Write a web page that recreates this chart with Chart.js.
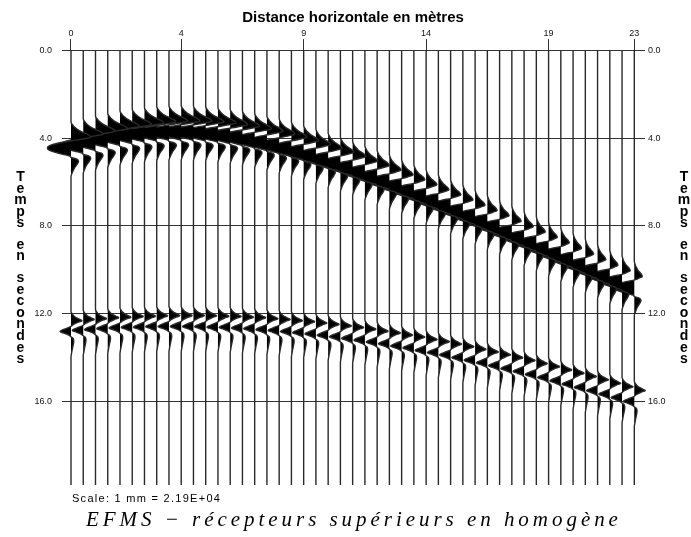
<!DOCTYPE html>
<html>
<head>
<meta charset="utf-8">
<script src="https://cdn.jsdelivr.net/npm/chart.js@4.4.1/dist/chart.umd.min.js"></script>
<style>
  html, body { margin: 0; padding: 0; background: #fff; }
  canvas { display: block; }
</style>
</head>
<body>
<canvas id="c" width="691" height="537"></canvas>
<script>
// Receiver offsets along the surface (m), one trace per receiver
const offsets = [0, 0.5, 1, 1.5, 2, 2.5, 3, 3.5, 4, 4.5, 5, 5.5, 6, 6.5, 7, 7.5, 8, 8.5, 9, 9.5,
  10, 10.5, 11, 11.5, 12, 12.5, 13, 13.5, 14, 14.5, 15, 15.5, 16, 16.5, 17, 17.5, 18, 18.5, 19, 19.5,
  20, 20.5, 21, 21.5, 22, 22.5, 23];

// Time of the main (negative) peak of the first arrival on each trace (s)
const firstArrival = [4.48, 4.34, 4.21, 4.09, 3.98, 3.90, 3.83, 3.78, 3.75, 3.74,
  3.75, 3.78, 3.83, 3.90, 3.98, 4.09, 4.21, 4.34, 4.48, 4.64,
  4.81, 4.99, 5.17, 5.36, 5.57, 5.77, 5.98, 6.20, 6.42, 6.65,
  6.88, 7.11, 7.34, 7.58, 7.82, 8.06, 8.31, 8.56, 8.80, 9.05,
  9.30, 9.55, 9.81, 10.06, 10.32, 10.57, 10.83];

// Trace deflection of the first arrival per unit amplitude (m)
const firstGain = [0.96, 0.96, 0.96, 0.96, 0.95, 0.95, 0.95, 0.95, 0.95, 0.95,
  0.95, 0.95, 0.94, 0.94, 0.94, 0.94, 0.93, 0.93, 0.93, 0.92,
  0.92, 0.91, 0.91, 0.90, 0.90, 0.89, 0.89, 0.89, 0.88, 0.88,
  0.88, 0.87, 0.87, 0.87, 0.87, 0.86, 0.86, 0.86, 0.86, 0.86,
  0.85, 0.85, 0.85, 0.85, 0.85, 0.85, 0.85];

// Relative size of the leading positive lobe of the first arrival
const firstLead = [1.00, 1.00, 1.00, 0.99, 0.99, 0.98, 0.98, 0.97, 0.96, 0.95,
  0.94, 0.93, 0.92, 0.90, 0.88, 0.86, 0.84, 0.82, 0.80, 0.78,
  0.76, 0.74, 0.72, 0.70, 0.68, 0.66, 0.64, 0.62, 0.60, 0.59,
  0.58, 0.57, 0.56, 0.55, 0.54, 0.53, 0.52, 0.51, 0.50, 0.49,
  0.48, 0.48, 0.47, 0.47, 0.46, 0.46, 0.45];

// Time of the main (negative) peak of the second arrival on each trace (s)
const secondArrival = [12.85, 12.80, 12.76, 12.72, 12.69, 12.66, 12.65, 12.63, 12.62, 12.62,
  12.62, 12.63, 12.65, 12.66, 12.69, 12.72, 12.76, 12.80, 12.85, 12.90,
  12.96, 13.02, 13.09, 13.16, 13.24, 13.33, 13.41, 13.51, 13.60, 13.71,
  13.81, 13.92, 14.04, 14.16, 14.28, 14.41, 14.54, 14.67, 14.81, 14.95,
  15.10, 15.25, 15.40, 15.55, 15.71, 15.87, 16.04];

// Trace deflection of the second arrival per unit amplitude (m)
const secondGain = 0.45;

// Pulse of the first arrival: lag from its main peak (s), leading lobe and main part
const firstPulseLag = [-1.20, -1.05, -0.92, -0.80, -0.70, -0.60, -0.50, -0.42, -0.34, -0.26,
  -0.16, -0.06, 0, 0.08, 0.18, 0.28, 0.36, 0.42, 0.50, 0.60, 0.75, 0.92, 1.10, 1.30];
const firstLeadAmp = [0, 0.08, 0.20, 0.36, 0.55, 0.75, 0.85, 0.50, 0.05, 0,
  0, 0, 0, 0, 0, 0, 0, 0, 0, 0, 0, 0, 0, 0];
const firstMainAmp = [0, 0, 0, 0, 0, 0, 0, 0, 0, -0.40,
  -0.80, -0.98, -1, -0.95, -0.70, -0.35, -0.05, 0, 0.25, 0.32, 0.25, 0.14, 0.06, 0];

// Pulse of the second arrival
const secondPulseLag = [-0.92, -0.80, -0.68, -0.57, -0.50, -0.42, -0.32, -0.24, -0.14, -0.06,
  0, 0.08, 0.16, 0.24, 0.32, 0.45, 0.65, 0.85, 1.05, 1.15];
const secondPulseAmp = [0, 0.12, 0.35, 0.75, 1.0, 0.60, 0.20, 0, -0.45, -0.85,
  -1, -0.60, -0.20, 0, 0.20, 0.25, 0.18, 0.10, 0.03, 0];

// Record length (s)
const recordStart = 0;
const recordEnd = 19.85;

// Axis ticks
const distanceTicks = [0, 4.5, 9.5, 14.5, 19.5, 23];
const distanceTickLabels = ['0', '4', '9', '14', '19', '23'];
const timeTicks = [0, 4, 8, 12, 16];

// Extent of the horizontal time lines (m)
const timeLineSpan = [-0.37, 23.44];

const datasets = offsets.map((x0, i) => {
  const pts = [{ x: x0, y: recordStart }];
  firstPulseLag.forEach((lag, k) => {
    const a = firstLead[i] * firstLeadAmp[k] + firstMainAmp[k];
    pts.push({ x: x0 + firstGain[i] * a, y: firstArrival[i] + lag });
  });
  secondPulseLag.forEach((lag, k) => pts.push({ x: x0 + secondGain * secondPulseAmp[k], y: secondArrival[i] + lag }));
  pts.push({ x: x0, y: recordEnd });
  return {
    data: pts,
    borderColor: '#2a2a2a',
    borderWidth: 1.4,
    backgroundColor: '#000',
    fill: { value: x0 },
    pointRadius: 0,
    pointHoverRadius: 0,
    cubicInterpolationMode: 'monotone',
    clip: false
  };
});

const decorations = {
  id: 'decorations',
  beforeDatasetsDraw(chart) {
    const { ctx, scales: { x, y } } = chart;
    ctx.save();
    ctx.strokeStyle = '#333';
    ctx.lineWidth = 1;
    const xa = x.getPixelForValue(timeLineSpan[0]);
    const xb = x.getPixelForValue(timeLineSpan[1]);
    timeTicks.forEach(v => {
      const py = Math.round(y.getPixelForValue(v)) + 0.5;
      ctx.beginPath();
      ctx.moveTo(xa, py);
      ctx.lineTo(xb, py);
      ctx.stroke();
    });
    ctx.restore();
  },
  afterDraw(chart) {
    const { ctx, scales: { x, y } } = chart;
    ctx.save();
    ctx.fillStyle = '#111';
    // time labels on both sides
    ctx.font = '9px "Liberation Sans"';
    ctx.textBaseline = 'middle';
    const xa = x.getPixelForValue(timeLineSpan[0]);
    const xb = x.getPixelForValue(timeLineSpan[1]);
    timeTicks.forEach(v => {
      const py = y.getPixelForValue(v) + 0.5;
      const label = v.toFixed(1);
      ctx.textAlign = 'right';
      ctx.fillText(label, xa - 10, py);
      ctx.textAlign = 'left';
      ctx.fillText(label, xb + 3, py);
    });

    // stacked vertical axis titles
    ctx.fillStyle = '#000';
    ctx.font = 'bold 14px "Liberation Sans"';
    ctx.textAlign = 'center';
    ctx.textBaseline = 'alphabetic';
    const words = ['Temps', 'en', 'secondes'];
    const pitch = 11.6;
    [20.5, 684].forEach(cx => {
      let by = 181;
      words.forEach((w, wi) => {
        if (wi > 0) by += pitch * 0.85;
        for (const ch of w) {
          ctx.save();
          ctx.translate(cx, by);
          ctx.scale(1, 1.08);
          ctx.fillText(ch, 0, 0);
          ctx.restore();
          by += pitch;
        }
      });
    });

    // scale note
    ctx.font = '11px "Liberation Sans"';
    ctx.textAlign = 'left';
    const note = 'Scale: 1 mm = 2.19E+04';
    const nw = ctx.measureText(note).width;
    ctx.letterSpacing = ((148 - nw) / (note.length - 1)).toFixed(2) + 'px';
    ctx.fillText(note, 72, 502);
    ctx.letterSpacing = '0px';

    // caption
    ctx.font = 'italic 21px "Liberation Serif"';
    const caption = 'EFMS − récepteurs supérieurs en homogène';
    const cw = ctx.measureText(caption).width;
    ctx.letterSpacing = ((532 - cw) / (caption.length - 1)).toFixed(2) + 'px';
    ctx.fillText(caption, 86, 526);
    ctx.restore();
  }
};

new Chart(document.getElementById('c'), {
  type: 'line',
  data: { datasets },
  options: {
    responsive: false,
    animation: false,
    indexAxis: 'y',
    layout: { padding: { left: 38, right: 23, top: 0, bottom: 52 } },
    plugins: { legend: { display: false }, tooltip: { enabled: false } },
    events: [],
    scales: {
      x: {
        type: 'linear',
        position: 'top',
        min: -1.3474,
        max: 24.376,
        afterBuildTicks: s => { s.ticks = distanceTicks.map(v => ({ value: v })); },
        afterFit: s => { s.height = 50; },
        ticks: {
          callback: (v, i) => distanceTickLabels[i],
          font: { family: 'Liberation Sans', size: 9 },
          color: '#111',
          padding: 0,
          maxRotation: 0,
          autoSkip: false
        },
        grid: { drawOnChartArea: false, drawTicks: true, tickLength: 11, color: '#333', lineWidth: 1 },
        border: { display: false },
        title: {
          display: true,
          text: 'Distance horizontale en mètres',
          font: { family: 'Liberation Sans', size: 15, weight: 'bold' },
          color: '#000',
          padding: { top: 9, bottom: 0 }
        }
      },
      y: {
        type: 'linear',
        reverse: true,
        min: 0,
        max: 19.85,
        display: false
      }
    }
  },
  plugins: [decorations]
});
</script>
</body>
</html>
